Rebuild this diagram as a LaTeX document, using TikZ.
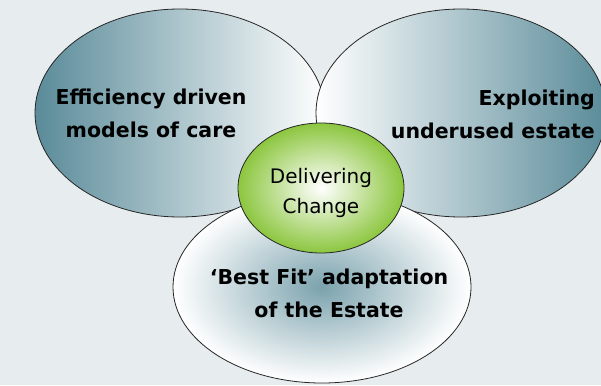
\documentclass[tikz,border=0pt]{standalone}
\usepackage{fontspec}
\setmainfont{DejaVu Sans}
\usetikzlibrary{shapes.geometric}
\definecolor{bgc}{HTML}{E7ECEF}
\definecolor{sea}{HTML}{5A8B99}
\definecolor{leaf}{HTML}{8CC63F}

\begin{document}
\begin{tikzpicture}[x=1pt,y=-1pt,
  blob/.style={ellipse,draw=black!85,line width=0.8pt,inner sep=0pt},
  big/.style={font=\bfseries\fontsize{20.5}{33}\selectfont,inner sep=0pt},
  mid/.style={font=\fontsize{20}{30}\selectfont,inner sep=0pt}]
\useasboundingbox[fill=bgc] (0,0) rectangle (601,385);
\clip (0,0) rectangle (601,385);

% three overlapping themes, the core on top
\node[blob,minimum width=290pt,minimum height=208pt,left color=sea,right color=white] (eff) at (180,113) {};
\node[blob,minimum width=290pt,minimum height=208pt,left color=white,right color=sea] (est) at (461,113) {};
\node[blob,minimum width=298pt,minimum height=192pt,inner color=sea!80,outer color=white] (fit) at (322,287) {};
\node[blob,minimum width=166pt,minimum height=130pt,inner color=white,outer color=leaf] (core) at (321,188) {};

% labels, placed by the baseline of their last line
\node[big,align=center,anchor=base] (effl) at (151,137) {Efficiency driven\\models of care};
\node[big,align=right,anchor=base east] (estl) at (595,138) {Exploiting\hspace{6pt}\\underused estate};
\node[big,align=center,anchor=base] (fitl) at (329,317) {‘Best Fit’ adaptation\\of the Estate};
\node[mid,align=center,anchor=base] (corel) at (321,213) {Delivering\\Change};
\end{tikzpicture}
\end{document}
